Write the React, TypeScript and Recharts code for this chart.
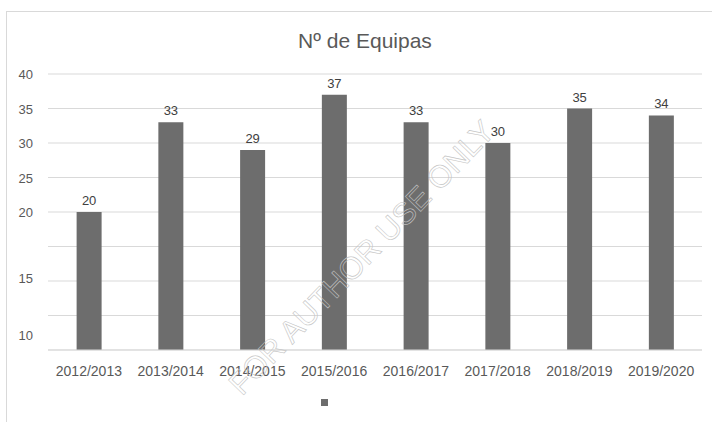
import { BarChart, Bar, XAxis, YAxis, CartesianGrid, LabelList, Legend } from 'recharts';

const seasons = ['2012/2013', '2013/2014', '2014/2015', '2015/2016', '2016/2017', '2017/2018', '2018/2019', '2019/2020'];
const teams = [20, 33, 29, 37, 33, 30, 35, 34];

// gridlines every 5, but the printed labels sit where the source put them
const gridValues = [0, 5, 10, 15, 20, 25, 30, 35, 40];
const yTickValues = [2.2, 10.4, 20, 25, 30, 35, 40];
const yTickLabels = ['10', '15', '20', '25', '30', '35', '40'];

const data = seasons.map((s, i) => ({ season: s, equipas: teams[i] }));

const FONT = '"Liberation Sans", Arial, sans-serif';

function YTick({ x, y, payload }: any) {
  const idx = yTickValues.indexOf(payload.value);
  return (
    <text x={x} y={y} dy={5} textAnchor="end" fontSize={13} fill="#595959" fontFamily={FONT}>
      {yTickLabels[idx]}
    </text>
  );
}

function LegendSquare() {
  return (
    <div style={{ display: 'flex', justifyContent: 'center', paddingTop: 17 }}>
      <div style={{ width: 7, height: 7, background: '#6d6d6d', marginLeft: -54 }} />
    </div>
  );
}

export default function App() {
  return (
    <div style={{ position: 'fixed', left: 0, top: 0, width: 712, height: 422, overflow: 'hidden', background: '#fff' }}>
      <div style={{ position: 'absolute', left: 6, top: 11, width: 730, height: 430, border: '1px solid #d9d9d9' }} />
      <div
        style={{
          position: 'absolute', left: 9, top: 29, width: 712, textAlign: 'center',
          fontFamily: FONT, fontSize: 21, color: '#595959',
        }}
      >
        Nº de Equipas
      </div>
      <div style={{ position: 'absolute', left: 0, top: 0 }}>
        <BarChart width={712} height={422} data={data} margin={{ top: 74, right: 10, bottom: 10, left: 0 }} barCategoryGap="35%">
          <CartesianGrid vertical={false} stroke="#d9d9d9" horizontalValues={gridValues} />
          <XAxis
            dataKey="season"
            axisLine={{ stroke: '#d9d9d9' }}
            tickLine={false}
            tickMargin={10}
            height={32}
            tick={{ fontSize: 14, fill: '#595959', fontFamily: FONT }}
          />
          <YAxis
            domain={[0, 40]}
            ticks={yTickValues}
            width={48}
            axisLine={false}
            tickLine={false}
            tickMargin={9}
            tick={<YTick />}
          />
          <Legend verticalAlign="bottom" height={30} content={<LegendSquare />} />
          <Bar dataKey="equipas" fill="#6d6d6d" isAnimationActive={false}>
            <LabelList dataKey="equipas" position="top" offset={7} fontSize={13} fill="#404040" fontFamily={FONT} />
          </Bar>
        </BarChart>
      </div>
      <div
        style={{
          position: 'absolute', left: 362, top: 258, transform: 'translate(-50%, -50%) rotate(-46deg)',
          whiteSpace: 'nowrap', fontFamily: FONT, fontSize: 31,
          color: 'rgba(255,255,255,0)', WebkitTextStroke: '0.6px #c4c4c4', pointerEvents: 'none',
        }}
      >
        FOR AUTHOR USE ONLY
      </div>
    </div>
  );
}
